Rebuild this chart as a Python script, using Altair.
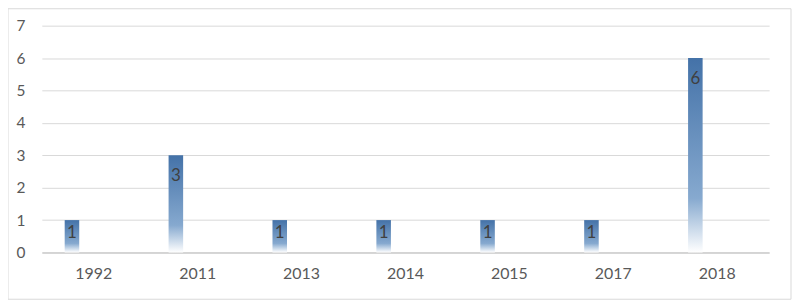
import altair as alt
import pandas as pd

years = ["1992", "2011", "2013", "2014", "2015", "2017", "2018"]
counts = [1, 3, 1, 1, 1, 1, 6]
series_slots = ["Series1", "Series2", "Series3", "Series4"]
y_ticks = [0, 1, 2, 3, 4, 5, 6, 7]

df = pd.DataFrame({"year": years, "count": counts, "series": ["Series1"] * len(years)})

FONT = "Lato"
gradient = {
    "gradient": "linear",
    "x1": 0, "y1": 0, "x2": 0, "y2": 1,
    "stops": [
        {"offset": 0, "color": "#4472a8"},
        {"offset": 0.72, "color": "#86a9cf"},
        {"offset": 1, "color": "#ffffff"},
    ],
}

x_axis = alt.Axis(title=None, labelAngle=0, ticks=False, domainColor="#bfbfbf",
                  labelColor="#595959", labelFont=FONT, labelFontSize=16,
                  labelPadding=13, grid=False)
y_axis = alt.Axis(title=None, values=y_ticks, ticks=False, domain=False,
                  labelOverlap=False, gridColor="#d9d9d9", labelColor="#595959",
                  labelFont=FONT, labelFontSize=15.5, labelPadding=17)
x_scale = alt.Scale(paddingInner=0.44, paddingOuter=0.22)
y_scale = alt.Scale(domain=[0, 7], nice=False)
xoff_scale = alt.Scale(domain=series_slots, paddingInner=0, paddingOuter=0)

base = alt.Chart(df)

frame = base.mark_rect(fill=None, stroke="#d9d9d9", strokeWidth=1).encode(
    x=alt.value(-34), x2=alt.value(753), y=alt.value(-17), y2=alt.value(275)
).transform_filter("datum.year == '1992'")

bars = base.mark_bar(fill=gradient).encode(
    x=alt.X("year:N", sort=years, scale=x_scale, axis=x_axis),
    xOffset=alt.XOffset("series:N", scale=xoff_scale),
    y=alt.Y("count:Q", scale=y_scale, axis=y_axis),
)

labels = base.transform_calculate(
    pos="max(datum.count - 0.65, 0.6)"
).mark_text(font=FONT, fontSize=17, color="#404040", baseline="middle").encode(
    x=alt.X("year:N", sort=years, scale=x_scale, axis=x_axis),
    xOffset=alt.XOffset("series:N", scale=xoff_scale),
    y=alt.Y("pos:Q", scale=y_scale, axis=y_axis),
    text=alt.Text("count:Q"),
)

chart = alt.layer(frame, bars, labels).properties(
    width=731, height=228,
    padding={"left": 34, "top": 17, "right": 23, "bottom": 48},
    autosize=alt.AutoSizeParams(type="none"),
).configure(background="white", view=alt.ViewConfig(stroke=None))

chart.save("out.html", embed_options={"renderer": "svg", "actions": False})
